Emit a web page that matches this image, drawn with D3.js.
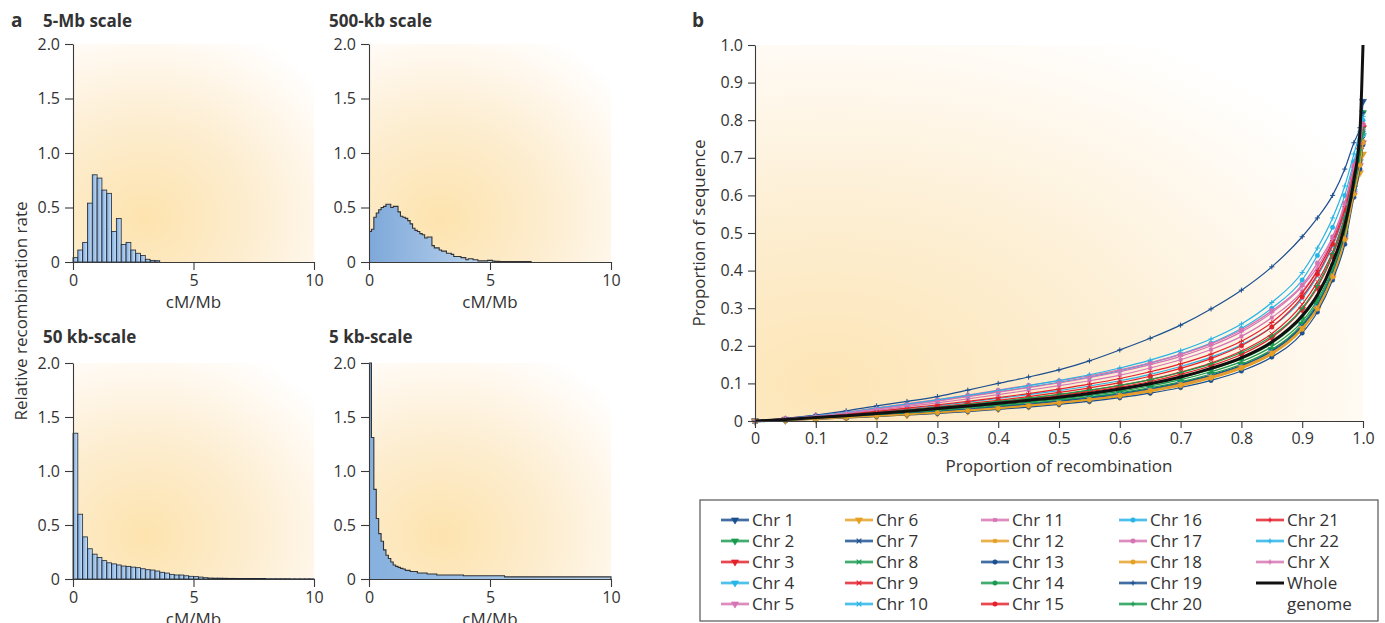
<!DOCTYPE html>
<html>
<head>
<meta charset="utf-8">
<script src="https://cdn.jsdelivr.net/npm/d3@7"></script>
<style>
  body { margin: 0; background: #fff; }
  text { font-family: "Open Sans", "DejaVu Sans", sans-serif; fill: #333; }
</style>
</head>
<body>
<svg id="fig" width="1385" height="623"></svg>
<script>
// ---------- panel a: relative recombination rate per cM/Mb bin ----------
var mb5BinWidth = 0.2;
var mb5Rates = [0.04, 0.11, 0.18, 0.54, 0.80, 0.77, 0.66, 0.63, 0.28, 0.40,
  0.16, 0.18, 0.11, 0.08, 0.06, 0.025, 0.015, 0.012];

var kb500BinWidth = 0.1;
var kb500Rates = [0.28, 0.30, 0.41, 0.45, 0.48, 0.50, 0.51, 0.53, 0.53, 0.50,
  0.51, 0.51, 0.46, 0.42, 0.41, 0.40, 0.38, 0.35, 0.31, 0.29,
  0.28, 0.26, 0.25, 0.22, 0.23, 0.23, 0.15, 0.13, 0.13, 0.11,
  0.10, 0.10, 0.08, 0.08, 0.07, 0.05, 0.05, 0.05, 0.04, 0.04,
  0.02, 0.03, 0.03, 0.02, 0.02, 0.01, 0.01, 0.01, 0.01, 0.015,
  0.015, 0.008, 0.006, 0.006, 0.005, 0.005, 0.005, 0.005, 0.004, 0.004,
  0.004, 0.004, 0.004, 0.003, 0.003, 0.003, 0.003];

var kb50BinWidth = 0.2;
var kb50Rates = [1.35, 0.60, 0.39, 0.28, 0.23, 0.20, 0.17, 0.15, 0.14, 0.13,
  0.12, 0.117, 0.11, 0.105, 0.095, 0.086, 0.083, 0.074, 0.062, 0.055,
  0.043, 0.037, 0.037, 0.03, 0.025, 0.022, 0.018, 0.012, 0.009, 0.008,
  0.008, 0.007, 0.006, 0.006, 0.005, 0.005, 0.005, 0.004, 0.004, 0.004,
  0.003, 0.003, 0.003, 0.003, 0.003, 0.002, 0.002, 0.002, 0.002, 0.002];

var kb5Edges = [0, 0.1, 0.2, 0.3, 0.4, 0.5, 0.6, 0.7, 0.8, 0.9, 1.0, 1.1, 1.2,
  1.3, 1.4, 1.5, 1.7, 2.0, 2.4, 2.8, 3.9, 5.6, 10];
var kb5Rates = [2.0, 1.31, 0.83, 0.56, 0.42, 0.35, 0.27, 0.22, 0.19, 0.157,
  0.13, 0.117, 0.108, 0.098, 0.092, 0.08, 0.07, 0.055, 0.046, 0.037, 0.03, 0.02];

var histTicksY = [0, 0.5, 1, 1.5, 2];
var histTicksX = [0, 5, 10];

// ---------- panel b: proportion of sequence vs proportion of recombination ----------
var recombX = [0, .05, .1, .15, .2, .25, .3, .35, .4, .45, .5, .55, .6, .65, .7, .75,
  .8, .85, .9, .925, .95, .97, .985, .995, 1];

var chr1  = [0, .003, .007, .011, .016, .021, .026, .032, .039, .046, .054, .063, .073, .086, .102, .122, .148, .187, .255, .31, .395, .495, .62, .73, .85];
var chr2  = [0, .003, .007, .011, .016, .021, .027, .033, .04, .047, .055, .064, .075, .088, .104, .125, .151, .19, .258, .315, .4, .5, .62, .72, .82];
var chr3  = [0, .004, .009, .014, .02, .027, .034, .041, .049, .058, .067, .078, .09, .105, .124, .147, .177, .222, .297, .355, .44, .535, .645, .72, .78];
var chr4  = [0, .002, .006, .01, .014, .019, .024, .03, .036, .043, .051, .06, .07, .083, .099, .119, .145, .183, .25, .305, .39, .49, .61, .69, .76];
var chr5  = [0, .002, .005, .009, .013, .017, .022, .028, .034, .041, .048, .057, .068, .08, .096, .116, .142, .18, .246, .3, .385, .485, .605, .68, .74];
var chr6  = [0, .002, .005, .008, .012, .016, .021, .026, .032, .039, .046, .055, .065, .078, .093, .113, .139, .177, .243, .297, .38, .48, .6, .66, .71];
var chr7  = [0, .003, .006, .01, .015, .02, .025, .031, .037, .044, .052, .061, .071, .084, .1, .12, .146, .185, .252, .307, .392, .492, .612, .69, .75];
var chr8  = [0, .003, .008, .012, .018, .023, .029, .036, .043, .05, .058, .068, .079, .093, .11, .131, .158, .198, .265, .322, .405, .505, .625, .70, .765];
var chr9  = [0, .004, .009, .015, .021, .028, .035, .043, .051, .06, .07, .081, .094, .11, .13, .154, .186, .232, .31, .37, .45, .545, .65, .72, .78];
var chr10 = [0, .005, .011, .018, .025, .033, .041, .05, .06, .07, .081, .093, .107, .124, .145, .17, .203, .25, .325, .385, .465, .555, .66, .73, .78];
var chr11 = [0, .005, .012, .02, .029, .038, .048, .059, .07, .082, .094, .107, .122, .141, .163, .19, .225, .275, .345, .4, .475, .565, .665, .73, .78];
var chr12 = [0, .002, .006, .009, .013, .018, .023, .029, .035, .042, .05, .058, .069, .082, .098, .118, .144, .182, .248, .302, .387, .487, .607, .68, .745];
var chr13 = [0, .002, .005, .008, .012, .016, .02, .025, .031, .037, .044, .052, .062, .074, .089, .108, .133, .17, .234, .29, .375, .47, .595, .67, .735];
var chr14 = [0, .003, .008, .013, .018, .024, .03, .037, .045, .053, .061, .071, .083, .097, .115, .137, .165, .206, .275, .33, .415, .515, .635, .71, .77];
var chr15 = [0, .004, .01, .016, .023, .03, .038, .046, .055, .065, .076, .088, .102, .119, .14, .166, .2, .25, .33, .39, .47, .56, .665, .73, .785];
var chr16 = [0, .006, .013, .022, .033, .043, .054, .066, .078, .09, .103, .117, .134, .154, .178, .207, .246, .3, .375, .44, .515, .6, .69, .75, .8];
var chr17 = [0, .007, .015, .024, .035, .046, .057, .069, .082, .095, .107, .12, .136, .155, .177, .205, .242, .293, .362, .42, .49, .58, .68, .74, .79];
var chr18 = [0, .002, .005, .009, .013, .017, .022, .027, .033, .04, .047, .056, .066, .079, .094, .114, .14, .178, .244, .298, .383, .483, .603, .68, .74];
var chr19 = [0, .007, .016, .027, .04, .052, .065, .082, .1, .117, .136, .16, .189, .22, .255, .298, .348, .41, .49, .54, .6, .67, .74, .78, .82];
var chr20 = [0, .004, .01, .016, .022, .029, .036, .044, .052, .061, .071, .082, .095, .11, .129, .152, .182, .226, .3, .36, .445, .54, .65, .72, .78];
var chr21 = [0, .005, .011, .018, .026, .034, .043, .052, .062, .073, .085, .098, .113, .131, .152, .178, .212, .262, .34, .4, .48, .57, .675, .74, .79];
var chr22 = [0, .006, .014, .023, .034, .045, .056, .068, .081, .094, .108, .123, .141, .162, .187, .218, .258, .315, .395, .46, .54, .625, .71, .77, .81];
var chrX  = [0, .006, .013, .022, .032, .042, .053, .065, .077, .089, .101, .115, .131, .15, .172, .2, .237, .288, .358, .41, .485, .575, .675, .74, .79];
var wholeGenome = [0, .004, .009, .014, .02, .026, .033, .04, .047, .055, .063, .073, .085, .099, .117, .14, .168, .21, .28, .335, .42, .52, .64, .77, 1];

var chrNames = ["Chr 1", "Chr 2", "Chr 3", "Chr 4", "Chr 5", "Chr 6", "Chr 7", "Chr 8",
  "Chr 9", "Chr 10", "Chr 11", "Chr 12", "Chr 13", "Chr 14", "Chr 15", "Chr 16",
  "Chr 17", "Chr 18", "Chr 19", "Chr 20", "Chr 21", "Chr 22", "Chr X"];
var chrSeries = [chr1, chr2, chr3, chr4, chr5, chr6, chr7, chr8, chr9, chr10, chr11,
  chr12, chr13, chr14, chr15, chr16, chr17, chr18, chr19, chr20, chr21, chr22, chrX];
var propTicks = [0, .1, .2, .3, .4, .5, .6, .7, .8, .9, 1];

// ---------- styles ----------
var palette = ["#1b4f8f", "#1a9a50", "#e4202a", "#27b4e6", "#d673b3", "#e5a024"];
// colours cycle in the legend order, marker shape changes per block
function chrColor(i) {
  if (i < 6) return palette[i];
  if (i < 12) return palette[i - 6];
  if (i < 18) return palette[i - 12];
  return palette[i - 18];
}
function chrMarker(i) {
  if (i < 6) return "tri";
  if (i < 10) return "x";
  if (i < 12) return "sq";
  if (i < 18) return "circ";
  return "plus";
}

var fig = d3.select("#fig");
var defs = fig.append("defs");

function radial(id, cx, cy, r, stops) {
  var g = defs.append("radialGradient").attr("id", id)
    .attr("cx", cx).attr("cy", cy).attr("r", r);
  stops.forEach(function(s) {
    g.append("stop").attr("offset", s[0]).attr("stop-color", s[1]);
  });
}
radial("bgHist", 0.3, 0.8, 0.95, [[0, "#fde3ae"], [0.45, "#fdedcf"], [0.8, "#fff8ee"], [1, "#ffffff"]]);
radial("bgB", 0.12, 0.9, 1.05, [[0, "#fde5b6"], [0.45, "#fdefd4"], [0.8, "#fff9f0"], [1, "#ffffff"]]);

var barGrad = defs.append("linearGradient").attr("id", "barGrad")
  .attr("x1", 0).attr("x2", 1).attr("y1", 0).attr("y2", 0);
barGrad.append("stop").attr("offset", 0).attr("stop-color", "#7aa7db");
barGrad.append("stop").attr("offset", 1).attr("stop-color", "#cfe2f5");

function stepGradient(id, x1, x2, c1, c2) {
  var g = defs.append("linearGradient").attr("id", id)
    .attr("gradientUnits", "userSpaceOnUse")
    .attr("x1", x1).attr("x2", x2).attr("y1", 0).attr("y2", 0);
  g.append("stop").attr("offset", 0).attr("stop-color", c1);
  g.append("stop").attr("offset", 1).attr("stop-color", c2);
}
stepGradient("step500", 369, 530, "#7ea8d9", "#d3e4f5");
stepGradient("step5", 369, 611, "#86b0de", "#b5d0ee");

function styleAxis(sel, size) {
  sel.attr("font-family", null).attr("font-size", null);
  sel.select(".domain").attr("stroke", "#3a3a3a").attr("stroke-width", 1.1);
  sel.selectAll(".tick line").attr("stroke", "#3a3a3a").attr("stroke-width", 1.1);
  sel.selectAll(".tick text").attr("fill", "#3a3a3a").style("font-size", size + "px");
}
function fmtTick(d) { return d === 0 ? "0" : d3.format(".1f")(d); }

// ---------- panel a ----------
var histPanels = [
  { title: "5-Mb scale", left: 73, right: 314, top: 44, bottom: 262, tx: 43, ty: 27, type: "bars", rates: mb5Rates, bin: mb5BinWidth },
  { title: "500-kb scale", left: 369, right: 611, top: 44, bottom: 262, tx: 329, ty: 27, type: "step", rates: kb500Rates,
    edges: d3.range(kb500Rates.length + 1).map(function(i) { return +(i * kb500BinWidth).toFixed(2); }), fill: "url(#step500)" },
  { title: "50 kb-scale", left: 73, right: 314, top: 363, bottom: 579, tx: 43, ty: 343, type: "bars", rates: kb50Rates, bin: kb50BinWidth },
  { title: "5 kb-scale", left: 369, right: 611, top: 363, bottom: 579, tx: 329, ty: 343, type: "step", rates: kb5Rates,
    edges: kb5Edges, fill: "url(#step5)" }
];

histPanels.forEach(function(p) {
  var x = d3.scaleLinear().domain([0, 10]).range([p.left, p.right]);
  var y = d3.scaleLinear().domain([0, 2]).range([p.bottom, p.top]);
  var g = fig.append("g");

  g.append("rect")
    .attr("x", p.left).attr("y", p.top)
    .attr("width", p.right - p.left).attr("height", p.bottom - p.top)
    .attr("fill", "url(#bgHist)");

  if (p.type === "bars") {
    g.selectAll("rect.bar")
      .data(p.rates)
      .enter()
      .append("rect")
      .attr("class", "bar")
      .attr("x", function(d, i) { return x(i * p.bin); })
      .attr("width", x(p.bin) - x(0))
      .attr("y", function(d) { return y(d); })
      .attr("height", function(d) { return y(0) - y(d); })
      .attr("fill", "url(#barGrad)")
      .attr("stroke", "#1d2733")
      .attr("stroke-width", 0.8);
  } else {
    var pts = p.edges.map(function(e, i) { return [e, i < p.rates.length ? p.rates[i] : 0]; });
    var area = d3.area().curve(d3.curveStepAfter)
      .x(function(d) { return x(d[0]); })
      .y0(y(0))
      .y1(function(d) { return y(d[1]); });
    var line = d3.line().curve(d3.curveStepAfter)
      .x(function(d) { return x(d[0]); })
      .y(function(d) { return y(d[1]); });
    g.append("path").attr("d", area(pts)).attr("fill", p.fill);
    g.append("path").attr("d", line(pts)).attr("fill", "none")
      .attr("stroke", "#333").attr("stroke-width", 1.1);
  }

  var yAxis = g.append("g")
    .attr("transform", "translate(" + p.left + ",0)")
    .call(d3.axisLeft(y).tickValues(histTicksY).tickFormat(fmtTick)
      .tickSize(8).tickSizeOuter(0).tickPadding(5));
  styleAxis(yAxis, 16);

  var xAxis = g.append("g")
    .attr("transform", "translate(0," + p.bottom + ")")
    .call(d3.axisBottom(x).tickValues(histTicksX).tickFormat(d3.format("d"))
      .tickSize(8).tickSizeOuter(0).tickPadding(5));
  styleAxis(xAxis, 16);

  g.append("text")
    .attr("x", p.tx).attr("y", p.ty)
    .style("font-size", "17px").style("font-weight", "bold").attr("fill", "#222")
    .text(p.title);

  g.append("text")
    .attr("x", (p.left + p.right) / 2).attr("y", p.bottom + 46)
    .attr("text-anchor", "middle")
    .style("font-size", "17px")
    .text("cM/Mb");
});

fig.append("text").attr("x", 11).attr("y", 27)
  .style("font-size", "19px").style("font-weight", "bold").attr("fill", "#222").text("a");

fig.append("text")
  .attr("transform", "translate(27,311) rotate(-90)")
  .attr("text-anchor", "middle")
  .style("font-size", "17px")
  .text("Relative recombination rate");

// ---------- panel b ----------
var xB = d3.scaleLinear().domain([0, 1]).range([755, 1363]);
var yB = d3.scaleLinear().domain([0, 1]).range([421, 45]);
var gB = fig.append("g");

gB.append("rect")
  .attr("x", xB(0)).attr("y", yB(1))
  .attr("width", xB(1) - xB(0)).attr("height", yB(0) - yB(1))
  .attr("fill", "url(#bgB)");

var curve = d3.line().curve(d3.curveMonotoneX)
  .x(function(d) { return xB(d[0]); })
  .y(function(d) { return yB(d[1]); });

function markerPath(kind) {
  if (kind === "tri") return d3.symbol(d3.symbolTriangle, 22)();
  if (kind === "x") return d3.symbol(d3.symbolTimes || d3.symbolCross, 16)();
  if (kind === "sq") return d3.symbol(d3.symbolSquare, 11)();
  if (kind === "circ") return d3.symbol(d3.symbolCircle, 16)();
  return d3.symbol(d3.symbolPlus || d3.symbolCross, 10)();
}

chrSeries.forEach(function(vals, i) {
  var pts = recombX.map(function(xv, j) { return [xv, vals[j]]; });
  var color = chrColor(i), kind = chrMarker(i);
  gB.append("path").attr("d", curve(pts)).attr("fill", "none")
    .attr("stroke", color).attr("stroke-width", 1.2);
  gB.selectAll(null)
    .data(pts)
    .enter()
    .append("path")
    .attr("d", markerPath(kind))
    .attr("transform", function(d) {
      return "translate(" + xB(d[0]) + "," + yB(d[1]) + ")" + (kind === "tri" ? " rotate(180)" : "");
    })
    .attr("fill", (kind === "x" || kind === "plus") ? "none" : color)
    .attr("stroke", color)
    .attr("stroke-width", (kind === "x" || kind === "plus") ? 1 : 0.5);
});

gB.append("path")
  .attr("d", curve(recombX.map(function(xv, j) { return [xv, wholeGenome[j]]; })))
  .attr("fill", "none").attr("stroke", "#111").attr("stroke-width", 3);

var yAxisB = gB.append("g")
  .attr("transform", "translate(" + xB(0) + ",0)")
  .call(d3.axisLeft(yB).tickValues(propTicks).tickFormat(fmtTick)
    .tickSize(7).tickSizeOuter(0).tickPadding(5));
styleAxis(yAxisB, 16);

var xAxisB = gB.append("g")
  .attr("transform", "translate(0," + yB(0) + ")")
  .call(d3.axisBottom(xB).tickValues(propTicks).tickFormat(fmtTick)
    .tickSize(7).tickSizeOuter(0).tickPadding(5));
styleAxis(xAxisB, 16);

fig.append("text").attr("x", 692).attr("y", 27)
  .style("font-size", "19px").style("font-weight", "bold").attr("fill", "#222").text("b");

fig.append("text")
  .attr("x", (xB(0) + xB(1)) / 2).attr("y", 472)
  .attr("text-anchor", "middle").style("font-size", "17px")
  .text("Proportion of recombination");

fig.append("text")
  .attr("transform", "translate(705," + (yB(0) + yB(1)) / 2 + ") rotate(-90)")
  .attr("text-anchor", "middle").style("font-size", "17px")
  .text("Proportion of sequence");

// ---------- legend ----------
var legend = fig.append("g");
legend.append("rect")
  .attr("x", 700).attr("y", 500).attr("width", 678).attr("height", 121)
  .attr("fill", "#fff").attr("stroke", "#555").attr("stroke-width", 1.2);

var legendColX = [752, 876, 1012, 1150, 1287];
var legendRowY = 520, legendRowStep = 21;

chrNames.forEach(function(name, i) {
  var col = Math.floor(i / 5), row = i % 5;
  var tx = legendColX[col], cy = legendRowY + row * legendRowStep;
  var color = chrColor(i), kind = chrMarker(i);
  legend.append("line").attr("x1", tx - 31).attr("x2", tx - 3).attr("y1", cy).attr("y2", cy)
    .attr("stroke", color).attr("stroke-width", 4).attr("stroke-opacity", 0.3);
  legend.append("line").attr("x1", tx - 31).attr("x2", tx - 3).attr("y1", cy).attr("y2", cy)
    .attr("stroke", color).attr("stroke-width", 1.5);
  legend.append("path")
    .attr("d", markerPath(kind))
    .attr("transform", "translate(" + (tx - 17) + "," + cy + ")" + (kind === "tri" ? " rotate(180)" : ""))
    .attr("fill", (kind === "x" || kind === "plus") ? "none" : color)
    .attr("stroke", color)
    .attr("stroke-width", (kind === "x" || kind === "plus") ? 1.2 : 0.6);
  legend.append("text").attr("x", tx).attr("y", cy).attr("dy", "0.35em")
    .style("font-size", "17px").text(name);
});

// whole genome entry
var wgY = legendRowY + 3 * legendRowStep;
legend.append("line").attr("x1", legendColX[4] - 31).attr("x2", legendColX[4] - 3)
  .attr("y1", wgY).attr("y2", wgY).attr("stroke", "#111").attr("stroke-width", 3);
legend.append("text").attr("x", legendColX[4]).attr("y", wgY).attr("dy", "0.35em")
  .style("font-size", "17px").text("Whole");
legend.append("text").attr("x", legendColX[4]).attr("y", wgY + legendRowStep).attr("dy", "0.35em")
  .style("font-size", "17px").text("genome");
</script>
</body>
</html>
